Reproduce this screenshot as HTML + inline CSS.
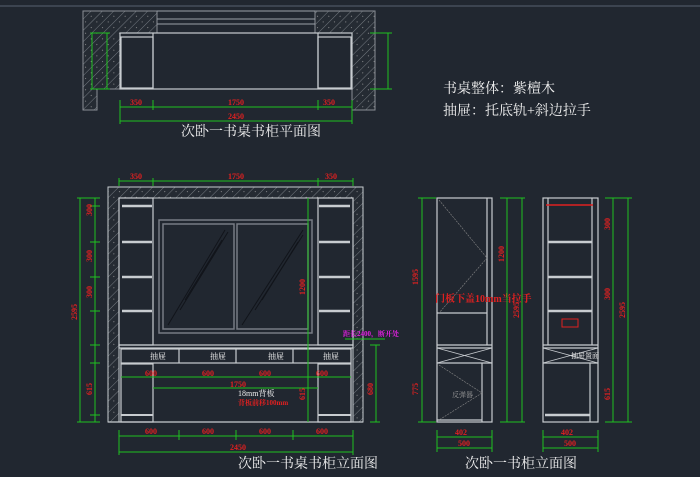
<!DOCTYPE html>
<html><head><meta charset="utf-8"><style>
html,body{margin:0;padding:0;background:#212730;}
svg{display:block;}
text{font-family:"Liberation Serif","Noto Serif CJK SC",serif;}
.r{font-weight:bold;}
</style></head><body>
<svg width="700" height="477" viewBox="0 0 700 477" xmlns="http://www.w3.org/2000/svg">
<defs>
<pattern id="h" width="8" height="8" patternUnits="userSpaceOnUse" patternTransform="rotate(45)">
<rect width="8" height="8" fill="#252b33"/><line x1="0" y1="0" x2="0" y2="8" stroke="#8a8f96" stroke-width="0.8"/>
<circle cx="4" cy="3" r="0.5" fill="#aaa"/>
</pattern>
</defs>
<rect width="700" height="477" fill="#212730"/>
<line x1="0" y1="6" x2="700" y2="6" stroke="#3c4450" stroke-width="2"/>

<g stroke="#8a8f96" stroke-width="1" fill="url(#h)">
<path d="M83 11 H157 V33 H120 V89 H97 V110 H83 Z"/>
<path d="M315 11 H375 V110 H352 V89 V33 H315 Z"/>
</g>
<g stroke="#9aa0a8" fill="none" stroke-width="1">
<line x1="157" y1="11" x2="315" y2="11"/>
<line x1="157" y1="19" x2="315" y2="19"/>
<line x1="157" y1="24" x2="315" y2="24"/>
<line x1="157" y1="33" x2="315" y2="33"/>
</g>
<g stroke="#c8ccd0" fill="none" stroke-width="1.2">
<rect x="120" y="33" width="232" height="56"/>
<rect x="121" y="37" width="32" height="51"/>
<rect x="318" y="37" width="33" height="51"/>
<line x1="153" y1="33" x2="153" y2="89"/><line x1="318" y1="33" x2="318" y2="89"/>
</g>
<g stroke="#20c020" fill="none" stroke-width="1">
<line x1="120" y1="107" x2="352" y2="107"/><line x1="120" y1="121" x2="352" y2="121"/>
<line x1="120" y1="100" x2="120" y2="124"/><line x1="153" y1="100" x2="153" y2="110"/>
<line x1="318" y1="100" x2="318" y2="110"/><line x1="352" y1="100" x2="352" y2="124"/>
<line x1="92" y1="33" x2="92" y2="89"/><line x1="107" y1="33" x2="107" y2="89"/>
<line x1="90" y1="33" x2="110" y2="33"/><line x1="90" y1="89" x2="110" y2="89"/>
<line x1="388" y1="33" x2="388" y2="89"/><line x1="370" y1="33" x2="392" y2="33"/><line x1="370" y1="89" x2="392" y2="89"/>
</g>
<g fill="#e02020" font-size="8" class="r">
<text x="130" y="105">350</text><text x="228" y="105">1750</text><text x="323" y="105">350</text>
<text x="228" y="119">2450</text>
</g>
<text x="181" y="136" fill="#f0f0f0" font-size="14">次卧一书桌书柜平面图</text>

<text x="443" y="93" fill="#f0f0f0" font-size="14">书桌整体：紫檀木</text>
<text x="443" y="115" fill="#f0f0f0" font-size="14">抽屉：托底轨+斜边拉手</text>

<path d="M108 187 H363 V422 H353 V198 H119 V422 H108 Z" fill="url(#h)" stroke="#c8ccd0" stroke-width="1"/>
<g stroke="#c8ccd0" fill="none" stroke-width="1.2">
<line x1="108" y1="422" x2="363" y2="422"/>
<rect x="119" y="198" width="34" height="147"/>
<rect x="318" y="198" width="35" height="147"/>
</g>
<g stroke="#c8ccd0" fill="none" stroke-width="2.5">
<line x1="122" y1="206" x2="152" y2="206"/><line x1="122" y1="242" x2="152" y2="242"/>
<line x1="122" y1="277" x2="152" y2="277"/><line x1="122" y1="311" x2="152" y2="311"/>
<line x1="319" y1="206" x2="350" y2="206"/><line x1="319" y1="242" x2="350" y2="242"/>
<line x1="319" y1="277" x2="350" y2="277"/><line x1="319" y1="311" x2="350" y2="311"/>
</g>
<g stroke="#c8ccd0" fill="none" stroke-width="1.2">
<rect x="119" y="345" width="234" height="3"/>
<rect x="121" y="349" width="230" height="14"/>
<line x1="179" y1="349" x2="179" y2="363"/><line x1="236" y1="349" x2="236" y2="363"/><line x1="293" y1="349" x2="293" y2="363"/>
<rect x="121" y="364" width="32" height="58"/><rect x="318" y="364" width="33" height="58"/>
<line x1="121" y1="415" x2="153" y2="415" stroke-width="2"/><line x1="318" y1="415" x2="351" y2="415" stroke-width="2"/>
</g>
<g stroke="#777c84" fill="none" stroke-width="1.5">
<rect x="159" y="220" width="153" height="113"/>
<rect x="163" y="224" width="71" height="105"/>
<rect x="237" y="224" width="71" height="105"/>
</g>
<g stroke="#11141a" stroke-width="1">
<line x1="168" y1="325" x2="225" y2="230"/><line x1="180" y1="310" x2="228" y2="232"/><line x1="185" y1="300" x2="222" y2="240"/>
<line x1="242" y1="325" x2="303" y2="230"/><line x1="255" y1="310" x2="303" y2="235"/><line x1="262" y1="300" x2="298" y2="242"/>
</g>
<g fill="#f0f0f0" font-size="8">
<text x="150" y="359">抽屉</text><text x="210" y="359">抽屉</text><text x="268" y="359">抽屉</text><text x="323" y="359">抽屉</text>
<text x="238" y="396">18mm背板</text>
</g>
<text x="238" y="405" fill="#e02020" font-size="7" class="r">背板前移100mm</text>
<text x="343" y="336" fill="#e020e0" font-size="7" class="r">距长2400，断开处</text>
<g stroke="#20c020" fill="none" stroke-width="1">
<line x1="119" y1="181" x2="353" y2="181"/><line x1="119" y1="178" x2="119" y2="186"/><line x1="153" y1="178" x2="153" y2="186"/><line x1="318" y1="178" x2="318" y2="186"/><line x1="353" y1="178" x2="353" y2="186"/>
<line x1="80" y1="198" x2="80" y2="422"/><line x1="95" y1="198" x2="95" y2="422"/>
<line x1="77" y1="198" x2="100" y2="198"/><line x1="77" y1="422" x2="100" y2="422"/>
<line x1="90" y1="206" x2="100" y2="206"/><line x1="90" y1="242" x2="100" y2="242"/><line x1="90" y1="277" x2="100" y2="277"/><line x1="90" y1="311" x2="100" y2="311"/><line x1="90" y1="345" x2="100" y2="345"/><line x1="90" y1="363" x2="100" y2="363"/><line x1="90" y1="415" x2="100" y2="415"/>
<line x1="308" y1="198" x2="308" y2="422"/><line x1="376" y1="345" x2="376" y2="422"/>
<line x1="370" y1="345" x2="380" y2="345"/><line x1="370" y1="422" x2="380" y2="422"/>
<line x1="121" y1="377" x2="351" y2="377"/><line x1="153" y1="388" x2="318" y2="388"/>
<line x1="119" y1="436" x2="353" y2="436"/><line x1="119" y1="452" x2="353" y2="452"/>
<line x1="119" y1="430" x2="119" y2="455"/><line x1="179" y1="430" x2="179" y2="440"/><line x1="236" y1="430" x2="236" y2="440"/><line x1="293" y1="430" x2="293" y2="440"/><line x1="353" y1="430" x2="353" y2="455"/>
<line x1="345" y1="339" x2="385" y2="339"/>
</g>
<g fill="#e02020" font-size="8" class="r">
<text x="130" y="179">350</text><text x="228" y="179">1750</text><text x="325" y="179">350</text>
<text x="145" y="434">600</text><text x="202" y="434">600</text><text x="259" y="434">600</text><text x="316" y="434">600</text>
<text x="145" y="376">600</text><text x="202" y="376">600</text><text x="259" y="376">600</text><text x="316" y="376">600</text>
<text x="230" y="387">1750</text><text x="230" y="450">2450</text>
</g>
<g fill="#e02020" font-size="8" class="r">
<text transform="translate(77,320) rotate(-90)">2595</text>
<text transform="translate(92,216) rotate(-90)">300</text>
<text transform="translate(92,262) rotate(-90)">300</text>
<text transform="translate(92,298) rotate(-90)">300</text>
<text transform="translate(92,395) rotate(-90)">615</text>
<text transform="translate(305,295) rotate(-90)">1200</text>
<text transform="translate(305,400) rotate(-90)">615</text>
<text transform="translate(373,395) rotate(-90)">680</text>
</g>
<text x="238" y="468" fill="#f0f0f0" font-size="14">次卧一书桌书柜立面图</text>

<g stroke="#c8ccd0" fill="none" stroke-width="1.2">
<rect x="437" y="198" width="55" height="224"/>
<line x1="487" y1="198" x2="487" y2="345"/>
<line x1="437" y1="313" x2="487" y2="313"/>
<line x1="437" y1="345" x2="492" y2="345"/><line x1="437" y1="348" x2="492" y2="348"/><line x1="437" y1="363" x2="492" y2="363"/>
<line x1="482" y1="363" x2="482" y2="422"/><line x1="437" y1="420" x2="482" y2="420"/>
<rect x="543" y="198" width="55" height="224"/>
<line x1="592" y1="198" x2="592" y2="345"/><line x1="548" y1="198" x2="548" y2="345"/>
<line x1="543" y1="345" x2="598" y2="345"/><line x1="543" y1="348" x2="598" y2="348"/><line x1="543" y1="363" x2="598" y2="363"/>
<line x1="590" y1="363" x2="590" y2="422"/>
</g>
<g stroke="#c8ccd0" stroke-width="2.5">
<line x1="548" y1="242" x2="592" y2="242"/><line x1="548" y1="277" x2="592" y2="277"/><line x1="548" y1="311" x2="592" y2="311"/>
<line x1="545" y1="415" x2="590" y2="415"/>
</g>
<line x1="546" y1="205" x2="593" y2="205" stroke="#e02020" stroke-width="1.5"/>
<g stroke="#888" stroke-width="0.6" fill="none" stroke-dasharray="2,1">
<line x1="439" y1="200" x2="487" y2="258"/><line x1="487" y1="258" x2="439" y2="313"/>
<line x1="439" y1="365" x2="482" y2="393"/><line x1="482" y1="393" x2="439" y2="420"/>
</g>
<g stroke="#c8ccd0" stroke-width="0.8"><line x1="437" y1="348" x2="492" y2="363"/><line x1="492" y1="348" x2="437" y2="363"/>
<line x1="543" y1="348" x2="598" y2="363"/><line x1="598" y1="348" x2="543" y2="363"/></g>
<text x="435" y="302" fill="#e02020" font-size="10" class="r">门板下盖10mm当拉手</text>
<text x="452" y="397" fill="#999" font-size="7">反弹器</text>
<text x="571" y="358" fill="#f0f0f0" font-size="7">抽屉置面</text>
<rect x="562" y="319" width="16" height="8" fill="none" stroke="#e02020"/>
<g stroke="#20c020" fill="none" stroke-width="1">
<line x1="422" y1="198" x2="422" y2="422"/><line x1="418" y1="198" x2="436" y2="198"/><line x1="418" y1="422" x2="436" y2="422"/>
<line x1="507" y1="198" x2="507" y2="422"/><line x1="522" y1="198" x2="522" y2="422"/>
<line x1="500" y1="198" x2="525" y2="198"/><line x1="500" y1="422" x2="525" y2="422"/>
<line x1="613" y1="198" x2="613" y2="422"/><line x1="628" y1="198" x2="628" y2="422"/>
<line x1="605" y1="198" x2="632" y2="198"/><line x1="605" y1="422" x2="632" y2="422"/>
<line x1="437" y1="437" x2="492" y2="437"/><line x1="437" y1="448" x2="492" y2="448"/>
<line x1="543" y1="437" x2="598" y2="437"/><line x1="543" y1="448" x2="598" y2="448"/>
<line x1="437" y1="430" x2="437" y2="452"/><line x1="492" y1="430" x2="492" y2="452"/>
<line x1="543" y1="430" x2="543" y2="452"/><line x1="598" y1="430" x2="598" y2="452"/>
</g>
<g fill="#e02020" font-size="8" class="r">
<text x="455" y="435">402</text><text x="561" y="435">402</text>
<text x="458" y="446">500</text><text x="564" y="446">500</text>
<text transform="translate(418,285) rotate(-90)">1595</text>
<text transform="translate(418,395) rotate(-90)">775</text>
<text transform="translate(519,318) rotate(-90)">2595</text>
<text transform="translate(625,318) rotate(-90)">2595</text>
<text transform="translate(504,262) rotate(-90)">1200</text>
<text transform="translate(610,230) rotate(-90)">300</text>
<text transform="translate(610,300) rotate(-90)">300</text>
<text transform="translate(610,400) rotate(-90)">615</text>
</g>
<text x="465" y="468" fill="#f0f0f0" font-size="14">次卧一书柜立面图</text>
</svg>
</body></html>
